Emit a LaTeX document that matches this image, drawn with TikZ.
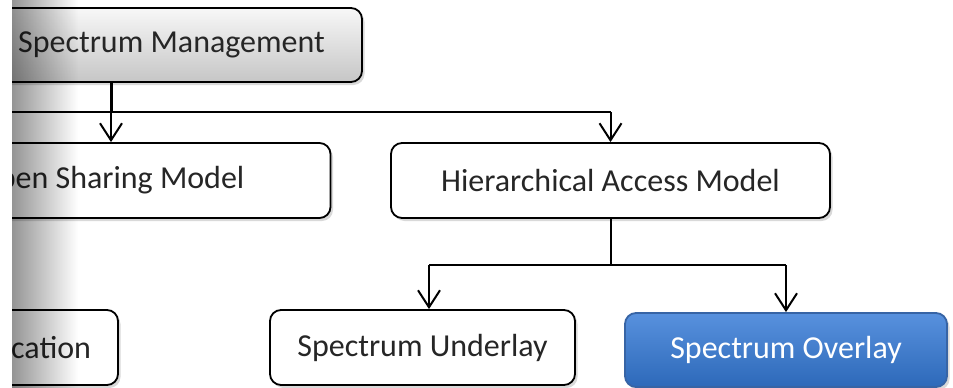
\documentclass[tikz,border=0pt]{standalone}
\usepackage{fontspec}
\setmainfont{Carlito}
\usetikzlibrary{arrows.meta,shadows,fadings}

\definecolor{boxgray}{RGB}{198,198,198}
\definecolor{ovltop}{RGB}{88,145,222}
\definecolor{ovlbot}{RGB}{45,105,185}
\definecolor{ovlline}{RGB}{55,100,165}

\begin{document}
\begin{tikzpicture}[x=1pt, y=-1pt,
    box/.style={draw=black, line width=1.8pt, rounded corners=11pt, fill=white,
      minimum height=75pt, inner sep=0pt, font=\fontsize{32}{38}\selectfont, text=black!85,
      drop shadow={shadow xshift=2.5pt, shadow yshift=-3pt, opacity=0.3}},
    link/.style={line width=2pt},
    arr/.style={line width=2pt, -{Straight Barb[length=17pt, width=22pt]}},
  ]
  \useasboundingbox (0,0) rectangle (953,388);
  %\draw[lightgray] (0,0) grid[step=50] (953,388);
  \begin{scope}
    \clip (12,0) rectangle (953,388);

    \node[box, minimum width=381pt, minimum height=74pt, top color=white!97!black, bottom color=boxgray] (mgmt) at (171.5,45) {Spectrum Management};
    \node[box, minimum width=439pt] (open) at (111,180.5) {Open Sharing Model};
    \node[box, minimum width=439pt] (hier) at (610.5,180.5) {Hierarchical Access Model};
    \node[box, text width=250pt, align=right, inner xsep=27pt] (alloc) at (-34,347.5) {cation};
    \node[box, minimum width=305pt] (under) at (422.5,347.5) {Spectrum Underlay};
    \node[box, minimum width=322pt, minimum height=74pt, draw=ovlline, top color=ovltop, bottom color=ovlbot, text=white] (over) at (786,350) {Spectrum Overlay};

    \coordinate (busL) at (-150,112);
    \coordinate (split) at (610.5,265);
    \coordinate (underin) at ([xshift=6.5pt]under.north);

    \draw[link, line width=3pt] (mgmt.south -| open.north) -- (busL -| open.north);
    \draw[link] (busL) -- (busL -| hier.north);
    \draw[arr] (busL -| open.north) -- (open.north);
    \draw[arr] (busL -| hier.north) -- (hier.north);

    \draw[link] (hier.south) -- (split);
    \draw[link] (split -| underin) -- (split -| over.north);
    \draw[arr] (split -| underin) -- (underin);
    \draw[arr] (split -| over.north) -- (over.north);

    % grey edge on the left
    \fill[black, fill opacity=0.42, path fading=east] (12,0) rectangle (78,388);
  \end{scope}
\end{tikzpicture}
\end{document}
